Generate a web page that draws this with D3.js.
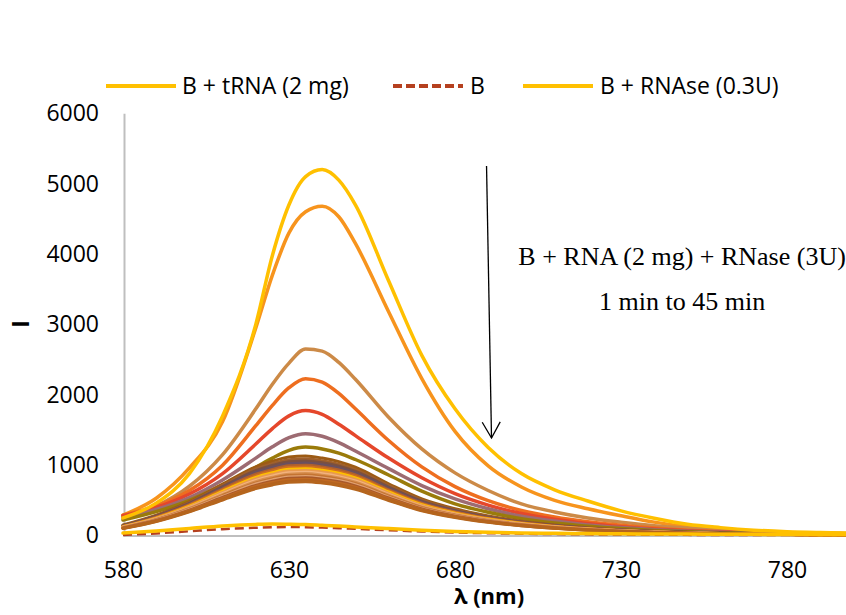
<!DOCTYPE html>
<html><head><meta charset="utf-8">
<script src="https://cdn.jsdelivr.net/npm/d3@7"></script>
<style>body{margin:0;background:#fff}svg{display:block}</style>
</head><body><svg id="c" width="846" height="615"></svg>
<script>
// ---------- data ----------
const wavelengths = [580,590,600,610,620,625,630,635,640,645,650,660,670,680,690,700,710,720,730,740,750,760,770,780,790,800];
const xTicks = [580,630,680,730,780];
const yTicks = [0,1000,2000,3000,4000,5000,6000];

// legend series
const bTRNA   = [250,460,880,1700,3000,3980,4700,5100,5200,5050,4700,3620,2560,1800,1250,880,650,490,350,245,160,112,76,54,42,34];
const bOnly   = [8,30,60,90,110,118,120,118,112,104,95,75,57,43,33,26,20,16,13,11,9,8,7,6,5,5];
const bRNAse  = [35,65,100,135,158,163,160,155,145,135,122,98,76,58,45,37,31,27,24,22,20,18,16,14,12,11];

// B + RNA (2 mg) + RNase (3U), 1 min to 45 min
const t01 = [290,530,960,1620,2950,3700,4300,4600,4680,4530,4150,3180,2230,1480,990,690,500,380,280,190,125,85,58,42,34,28];
const t02 = [270,420,700,1150,1800,2150,2450,2650,2620,2460,2220,1680,1230,890,640,450,335,250,190,140,105,75,52,38,30,25];
const t03 = [290,420,640,1000,1560,1850,2100,2228,2180,2020,1800,1350,975,695,495,355,262,195,145,105,75,55,40,30,25,20];
const t04 = [280,400,590,880,1300,1520,1700,1775,1720,1580,1420,1100,820,595,432,312,230,170,125,92,68,50,37,28,22,18];
const t05 = [250,370,540,790,1100,1260,1390,1446,1410,1320,1200,950,710,520,380,275,205,150,112,83,61,45,33,25,20,16];
const t06 = [220,340,500,720,970,1100,1210,1256,1230,1170,1080,860,630,450,330,240,178,132,98,72,53,39,29,22,17,14];
const t07 = [150,290,480,730,975,1055,1115,1130,1100,1050,970,735,520,380,277,203,150,111,82,61,45,34,25,19,15,12];
const t08 = [142,280,468,710,945,1022,1078,1090,1063,1014,937,709,501,365,267,196,145,107,80,59,44,33,24,19,14,12];
const t09 = [138,274,458,695,920,995,1048,1060,1034,986,912,689,488,355,260,191,141,104,77,57,42,32,23,18,14,12];
const t10 = [134,268,450,678,895,967,1020,1030,1004,958,886,670,474,345,252,185,137,101,75,56,41,31,23,18,13,11];
const t11 = [130,260,440,660,870,940,990,1000,975,930,860,650,460,335,245,180,133,98,73,54,40,30,22,17,13,11];
const t12 = [127,254,429,644,848,917,965,975,951,907,839,634,449,327,239,176,130,96,71,53,39,29,21,17,13,11];
const t13 = [124,247,418,627,827,893,941,950,926,884,817,618,437,318,233,171,126,93,69,51,38,29,21,16,12,10];
const t14 = [120,241,407,611,805,870,916,925,902,860,796,601,426,310,227,167,123,91,68,50,37,28,20,16,12,10];
const t15 = [117,234,396,594,783,846,891,900,878,837,774,585,414,302,221,162,120,88,66,49,36,27,20,15,12,10];
const t16 = [114,229,387,581,766,827,871,880,858,818,757,572,405,295,216,158,117,86,64,48,35,26,19,15,11,10];
const t17 = [112,224,378,568,748,808,851,860,839,800,740,559,396,288,211,155,114,84,63,46,34,26,19,15,11,9];
const t18 = [109,218,370,554,731,790,832,840,819,781,722,546,386,281,206,151,112,82,61,45,34,25,18,14,11,9];
const t19 = [107,213,361,541,713,771,812,820,800,763,705,533,377,275,201,148,109,80,60,44,33,25,18,14,11,9];
const t20 = [104,208,352,528,696,752,792,800,780,744,688,520,368,268,196,144,106,78,58,43,32,24,18,14,10,9];
const t21 = [101,203,343,515,679,733,772,780,761,725,671,507,359,261,191,140,104,76,57,42,31,23,17,13,10,9];
const t22 = [99,199,337,505,666,719,757,765,746,711,658,497,352,256,187,138,102,75,56,41,31,23,17,13,10,8];

const timeSeries = [t01,t02,t03,t04,t05,t06,t07,t08,t09,t10,t11,t12,t13,t14,t15,t16,t17,t18,t19,t20,t21,t22];
const timeColors = ['#F7941D','#CC8A47','#EE6E1F','#E5472B','#9D6B72','#9A7B0A',
  '#9C5B14','#A0602A','#7A5040','#6A5060','#B0602D','#D0701F','#FFC000','#E89A4E',
  '#F2B27E','#D89050','#C47432','#E0A070','#A9592A','#C06A22','#B46220','#B5651D'];

const legendNames = ['B + tRNA (2 mg)','B','B + RNAse (0.3U)'];
const legendColors = ['#FFC000','#B5401F','#FFC000'];

const annoLine1 = 'B + RNA (2 mg) + RNase (3U)';
const annoLine2 = '1 min to 45 min';
const arrowFrom = [689.5, 5250];
const arrowTo = [691, 1385];
const annoPos = [748.4, 3844, 3205];

// ---------- chart ----------
const svg = d3.select('#c');
const x = d3.scaleLinear().domain([580,800]).range([123, 853.4]);
const y = d3.scaleLinear().domain([0,6000]).range([535.5,113.3]);
const line = d3.line().x((d,i)=>x(wavelengths[i])).y(d=>y(d)).curve(d3.curveMonotoneX);

const font = "'Open Sans', sans-serif";

// axes
const gy = svg.append('g').attr('transform','translate(124,0)')
  .call(d3.axisLeft(y).tickValues(yTicks).tickSize(0).tickSizeOuter(0).tickPadding(25).tickFormat(d3.format('d')));
gy.select('.domain').attr('stroke','#BFBFBF').attr('stroke-width',2);
gy.selectAll('text').attr('font-family',font).attr('font-size',23).attr('fill','#000');

const gx = svg.append('g').attr('transform','translate(0,535.5)')
  .call(d3.axisBottom(x).tickValues(xTicks).tickSize(0).tickSizeOuter(0).tickPadding(26).tickFormat(d3.format('d')));
gx.select('.domain').attr('stroke','#BFBFBF').attr('stroke-width',2);
gx.selectAll('text').attr('font-family',font).attr('font-size',23).attr('fill','#000');

// series
const gl = svg.append('g').attr('fill','none').attr('stroke-linejoin','round').attr('stroke-linecap','round');
timeSeries.forEach((s,i)=>{
  gl.append('path').attr('d',line(s)).attr('stroke',timeColors[i]).attr('stroke-width', i<6?3.5:3);
});
gl.append('path').attr('d',line(bTRNA)).attr('stroke',legendColors[0]).attr('stroke-width',3.5);
gl.append('path').attr('d',line(bOnly)).attr('stroke',legendColors[1]).attr('stroke-width',2.5)
  .attr('stroke-dasharray','9,5').attr('stroke-linecap','butt');
gl.append('path').attr('d',line(bRNAse)).attr('stroke',legendColors[2]).attr('stroke-width',3.5);

// axis titles
svg.append('text').attr('x',489).attr('y',604).attr('text-anchor','middle')
  .attr('font-family',font).attr('font-weight','bold').attr('font-size',22).text('λ (nm)');
svg.append('text').attr('transform','translate(29,324) rotate(-90)').attr('text-anchor','middle')
  .attr('font-family',font).attr('font-weight','bold').attr('font-size',24).text('I');

// legend
const legX = [[106,176,182],[393,463,470],[523,593,600]];
legendNames.forEach((n,i)=>{
  const g = svg.append('g');
  g.append('line').attr('x1',legX[i][0]).attr('x2',legX[i][1]).attr('y1',86).attr('y2',86)
    .attr('stroke',legendColors[i]).attr('stroke-width',4)
    .attr('stroke-dasharray', i===1?'9,4':null);
  g.append('text').attr('x',legX[i][2]).attr('y',94).attr('font-family',font).attr('font-size',23).text(n);
});

// annotation
const defs = svg.append('defs');
defs.append('marker').attr('id','arr').attr('viewBox','0 0 20 20').attr('refX',18).attr('refY',10)
  .attr('markerWidth',20).attr('markerHeight',20).attr('markerUnits','userSpaceOnUse').attr('orient','auto')
  .append('path').attr('d','M2,1 L18,10 L2,19').attr('fill','none').attr('stroke','#000').attr('stroke-width',1.3);
svg.append('line').attr('x1',x(arrowFrom[0])).attr('y1',y(arrowFrom[1])).attr('x2',x(arrowTo[0])).attr('y2',y(arrowTo[1]))
  .attr('stroke','#000').attr('stroke-width',1.3).attr('marker-end','url(#arr)');
svg.append('text').attr('x',x(annoPos[0])).attr('y',y(annoPos[1])).attr('text-anchor','middle')
  .attr('font-family',"'Liberation Serif', serif").attr('font-size',26).text(annoLine1);
svg.append('text').attr('x',x(annoPos[0])).attr('y',y(annoPos[2])).attr('text-anchor','middle')
  .attr('font-family',"'Liberation Serif', serif").attr('font-size',26).text(annoLine2);
</script></body></html>
